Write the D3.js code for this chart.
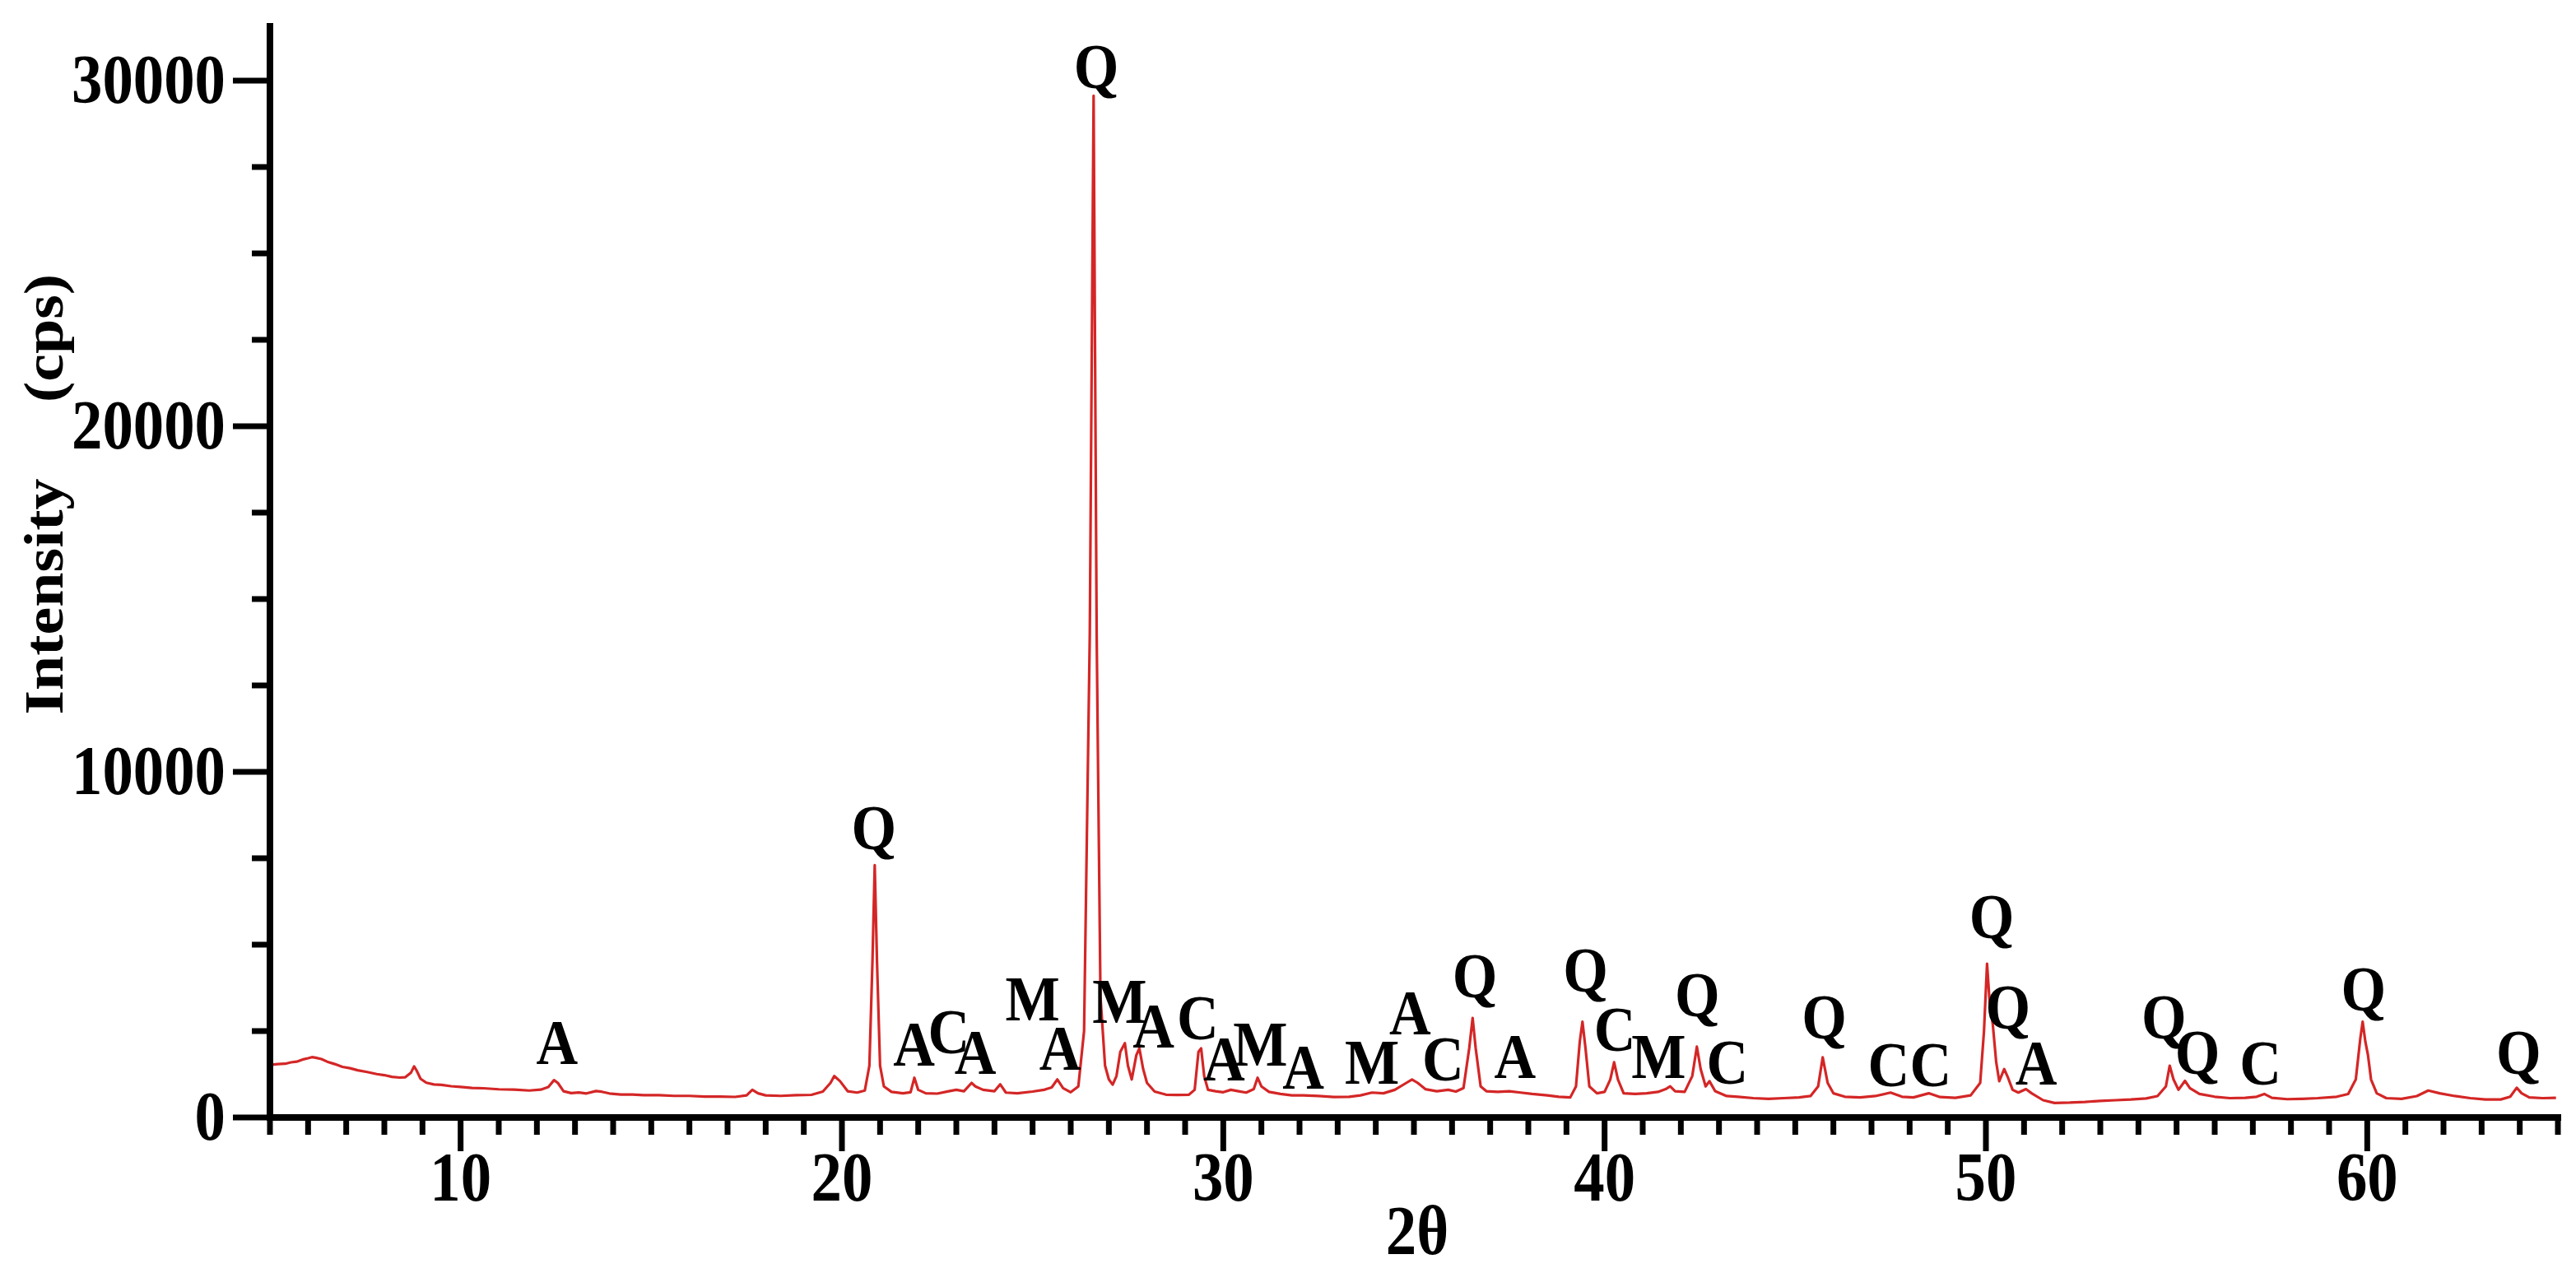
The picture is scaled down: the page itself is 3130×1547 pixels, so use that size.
<!DOCTYPE html>
<html><head><meta charset="utf-8">
<script src="https://cdn.jsdelivr.net/npm/d3@7/dist/d3.min.js"></script>
<style>html,body{margin:0;padding:0;background:#fff;} svg{display:block;}</style>
</head><body>
<svg id="chart" width="3130" height="1547"></svg>
<script>
const twoTheta = [
 5.0,5.2,5.4,5.55,5.7,5.85,6.0,6.1,6.2,6.35,6.5,6.7,6.9,7.1,7.3,7.55,7.8,8.0,8.2,8.4,8.55,8.7,8.78,8.85,8.95,9.1,9.3,9.5,9.75,10.0,
 10.3,10.6,11.0,11.4,11.8,12.1,12.3,12.45,12.55,12.7,12.9,13.1,13.3,13.55,13.7,13.9,14.2,14.5,14.8,15.2,15.6,16.0,16.4,16.8,17.2,17.5,17.65,17.8,18.0,18.4,
 18.8,19.2,19.5,19.7,19.8,19.95,20.15,20.4,20.6,20.72,20.8,20.86,20.92,21.0,21.1,21.3,21.6,21.8,21.9,22.0,22.2,22.5,22.8,23.0,23.2,23.4,23.5,23.7,24.0,24.15,
 24.3,24.6,25.0,25.3,25.5,25.65,25.8,26.0,26.2,26.35,26.5,26.6,26.68,26.78,26.9,27.0,27.1,27.2,27.3,27.42,27.5,27.6,27.72,27.8,27.9,28.0,28.2,28.5,28.8,29.1,
 29.25,29.35,29.42,29.5,29.6,29.8,30.0,30.2,30.4,30.6,30.8,30.9,31.0,31.2,31.5,31.8,32.1,32.5,32.9,33.3,33.6,33.9,34.2,34.5,34.8,34.95,35.1,35.3,35.6,35.9,
 36.1,36.3,36.45,36.54,36.62,36.75,36.9,37.2,37.5,37.8,38.1,38.5,38.8,39.1,39.25,39.35,39.42,39.5,39.6,39.8,40.0,40.15,40.25,40.35,40.5,40.8,41.1,41.4,41.6,41.72,
 41.85,42.1,42.3,42.42,42.52,42.65,42.75,42.9,43.2,43.5,43.9,44.3,44.7,45.1,45.4,45.6,45.72,45.85,46.0,46.3,46.7,47.1,47.5,47.8,48.1,48.5,48.8,49.2,49.6,49.85,
 49.95,50.03,50.1,50.18,50.27,50.35,50.48,50.58,50.7,50.85,51.05,51.2,51.5,51.8,52.2,52.6,53.0,53.4,53.8,54.2,54.5,54.72,54.82,54.92,55.05,55.22,55.35,55.6,56.0,56.4,
 56.8,57.1,57.3,57.5,57.9,58.3,58.7,59.2,59.5,59.7,59.82,59.88,59.95,60.02,60.1,60.25,60.5,60.9,61.3,61.6,61.9,62.3,62.7,63.1,63.5,63.75,63.92,64.05,64.25,64.6,64.95
];
const intensity = [
 1520,1545,1555,1595,1615,1675,1715,1745,1730,1690,1615,1545,1465,1425,1365,1315,1255,1225,1175,1155,1165,1300,1480,1350,1120,1005,955,945,905,885,
 855,845,815,805,780,805,880,1080,1000,760,705,725,695,765,745,695,665,665,645,645,625,625,605,605,595,640,800,700,640,625,
 645,655,750,1000,1200,1050,760,720,780,1500,4500,7300,4500,1500,900,740,700,730,1150,800,700,690,760,800,760,1000,900,800,760,960,
 720,700,750,800,870,1100,850,730,900,2500,14000,29560,14000,3500,1500,1100,950,1200,1900,2150,1500,1100,1800,2000,1400,1000,750,660,650,660,
 800,1900,2000,1200,800,760,730,800,760,720,820,1150,900,740,680,640,640,620,590,600,640,720,700,800,1000,1100,1000,820,760,800,
 750,850,2000,2880,2000,900,760,740,760,720,680,640,600,580,900,2200,2770,2000,900,700,740,1100,1600,1100,700,680,700,740,820,900,
 760,740,1200,2050,1400,900,1050,760,620,600,560,540,560,580,620,900,1740,1000,700,600,580,620,720,600,580,700,590,570,640,1000,
 2500,4450,3300,2700,1600,1050,1400,1150,800,720,820,700,500,420,430,450,480,500,520,550,620,900,1500,1100,800,1060,850,680,600,560,
 570,600,680,570,530,540,560,600,680,1100,2300,2770,2200,1800,1100,700,560,540,620,780,700,620,560,520,520,600,860,700,580,560,570
];
const peakLabels = ["A","Q","A","C","A","M","A","Q","M","A","C","A","M","A","M","A","C","Q","A","Q","C","M","Q","C","Q","C","C","Q","Q","A","Q","Q","C","Q","Q"];
const labelTheta = [12.53,20.84,21.89,22.8,23.5,25.0,25.72,26.67,27.28,28.17,29.33,30.02,30.97,32.1,33.9,34.9,35.76,36.6,37.65,39.5,40.27,41.42,42.43,43.22,45.76,47.45,48.55,50.15,50.58,51.32,54.67,55.55,57.2,59.9,63.97];
const labelIntensity = [1548,7750,1500,1857,1262,2810,1381,29786,2738,2024,2262,1071,1500,833,976,2405,1071,3476,1143,3643,1929,1143,2929,976,2286,905,905,5190,2571,952,2286,1262,952,3095,1262];
const xTickValues = [10,20,30,40,50,60];
const yTickValues = [0,10000,20000,30000];
const xTitle = "2θ";
const yTitleParts = ["Intensity","(cps)"];

// ---- drawing ----
const svg = d3.select("#chart");
const FONT = "'Liberation Serif','Times New Roman',serif";
const K = 0.88; // horizontal condensation of the original typography
const x = d3.scaleLinear().domain([5,65]).range([328,3108]);
const y = d3.scaleLinear().domain([0,31570]).range([1358,32]);

svg.append("rect").attr("width",3130).attr("height",1547).attr("fill","#fff");

// spectrum line
const line = d3.line().x((d,i)=>x(twoTheta[i])).y((d,i)=>y(intensity[i]));
svg.append("path").datum(intensity).attr("d",line)
  .attr("fill","none").attr("stroke","#d42626").attr("stroke-width",3.2)
  .attr("stroke-linejoin","round");

// axes
const ax = svg.append("g").attr("stroke","#000").attr("stroke-width",7);
ax.append("line").attr("x1",x(5)).attr("x2",x(65)).attr("y1",y(0)).attr("y2",y(0)).attr("stroke-width",8).attr("stroke-linecap","square");
ax.append("line").attr("x1",x(5)).attr("x2",x(5)).attr("y1",y(0)).attr("y2",y.range()[1]).attr("stroke-width",8).attr("stroke-linecap","square");

const xMinor = d3.range(5,65.001,1).filter(v=>!xTickValues.includes(v));
ax.selectAll(".xm").data(xMinor).join("line")
  .attr("x1",d=>x(d)).attr("x2",d=>x(d)).attr("y1",y(0)).attr("y2",y(0)+21);
ax.selectAll(".xM").data(xTickValues).join("line")
  .attr("x1",d=>x(d)).attr("x2",d=>x(d)).attr("y1",y(0)).attr("y2",y(0)+41);

const yMinor = d3.range(0,31000,2500).filter(v=>!yTickValues.includes(v));
ax.selectAll(".ym").data(yMinor).join("line")
  .attr("x1",x(5)).attr("x2",x(5)-22).attr("y1",d=>y(d)).attr("y2",d=>y(d));
ax.selectAll(".yM").data(yTickValues).join("line")
  .attr("x1",x(5)).attr("x2",x(5)-45).attr("y1",d=>y(d)).attr("y2",d=>y(d));

// tick labels
const txt = svg.append("g").attr("font-family",FONT).attr("font-weight","bold").attr("fill","#000");
txt.selectAll(".xl").data(xTickValues).join("text")
  .attr("transform",d=>`translate(${x(d)},1459) scale(${K},1)`)
  .attr("text-anchor","middle").attr("font-size",85).text(d=>d);
txt.selectAll(".yl").data(yTickValues).join("text")
  .attr("transform",d=>`translate(274,${y(d)+27}) scale(${K},1)`)
  .attr("text-anchor","end").attr("font-size",85).text(d=>d);

// axis titles
txt.append("text").attr("transform",`translate(1722,1524) scale(${K},1)`)
  .attr("text-anchor","middle").attr("font-size",85).text(xTitle);
txt.append("text").attr("transform",`translate(76,725) rotate(-90) scale(1,0.9)`)
  .attr("text-anchor","middle").attr("font-size",76).text(yTitleParts[0]);
txt.append("text").attr("transform",`translate(76,411) rotate(-90) scale(1,0.9)`)
  .attr("text-anchor","middle").attr("font-size",76).text(yTitleParts[1]);

// phase labels
txt.selectAll(".pl").data(peakLabels).join("text")
  .attr("transform",(d,i)=>`translate(${x(labelTheta[i])},${y(labelIntensity[i])}) scale(0.9,1)`)
  .attr("text-anchor","middle").attr("font-size",78).text(d=>d);
</script>
</body></html>
